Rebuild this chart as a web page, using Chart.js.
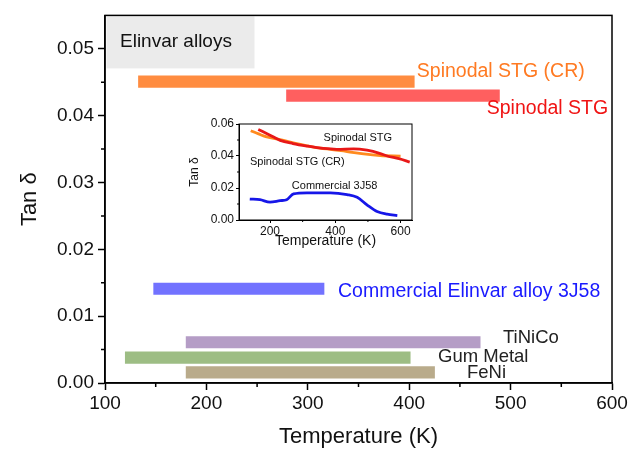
<!DOCTYPE html>
<html>
<head>
<meta charset="utf-8">
<script src="https://cdn.jsdelivr.net/npm/chart.js@4"></script>
<style>
  html, body { margin:0; padding:0; background:#fff; }
  #wrap { position:relative; width:641px; height:452px; }
  #main { position:absolute; left:0; top:0; }
  #inset { position:absolute; left:180px; top:110px; }
</style>
</head>
<body>
<div id="wrap">
  <canvas id="main" width="641" height="452"></canvas>
  <canvas id="inset" width="240" height="145"></canvas>
</div>
<script>
// main chart: temperature windows of each alloy
const alloyNames = ['Spinodal STG (CR)', 'Spinodal STG', 'Commercial Elinvar alloy 3J58', 'TiNiCo', 'Gum Metal', 'FeNi'];
const tempStart = [133, 279, 148, 180, 120, 180];
const tempEnd = [405, 489, 316, 470, 401, 425];
const tanDelta = [0.0451, 0.0430, 0.0141, 0.0061, 0.0038, 0.0016];
const barColors = ['#ff8c40', '#ff5f5f', '#7272ff', '#b59dc6', '#9dbd84', '#b9ab8b'];
const xTicks = [100, 200, 300, 400, 500, 600];
const yTicks = [0.00, 0.01, 0.02, 0.03, 0.04, 0.05];

// inset: tan delta vs temperature
const stgT = [164, 200, 231, 270, 313, 364, 405, 456, 497, 538, 559, 595, 628];
const stgTan = [0.0566, 0.0530, 0.0498, 0.0478, 0.0462, 0.0447, 0.0442, 0.0445, 0.0436, 0.0415, 0.0400, 0.0383, 0.0362];
const crT = [141, 165, 190, 231, 282, 333, 385, 436, 487, 538, 600];
const crTan = [0.0558, 0.0538, 0.0519, 0.0502, 0.0477, 0.0456, 0.0441, 0.0428, 0.0413, 0.0403, 0.0399];
const j58T = [138, 169, 200, 231, 251, 272, 313, 385, 436, 467, 497, 528, 559, 590];
const j58Tan = [0.0131, 0.0127, 0.0112, 0.0121, 0.0127, 0.0163, 0.0170, 0.0170, 0.0159, 0.0142, 0.0095, 0.0053, 0.0036, 0.0028];
const insetXTicks = [200, 400, 600];
const insetYTicks = [0.00, 0.02, 0.04, 0.06];

const FONT = "'Liberation Sans', Arial, sans-serif";

// frame + minor ticks
const framePlugin = {
  id: 'frame',
  afterDraw(chart, args, opts){
    const {ctx, chartArea:a, scales} = chart;
    ctx.save();
    ctx.strokeStyle = '#000';
    ctx.lineWidth = opts.lw || 1.5;
    ctx.strokeRect(a.left, a.top, a.right - a.left, a.bottom - a.top);
    const L = opts.minorLen || 3;
    ctx.beginPath();
    for(const v of opts.xMinor || []){
      const px = scales.x.getPixelForValue(v);
      ctx.moveTo(px, a.bottom); ctx.lineTo(px, a.bottom + L);
    }
    for(const v of opts.yMinor || []){
      const py = scales.y.getPixelForValue(v);
      ctx.moveTo(a.left, py); ctx.lineTo(a.left - L, py);
    }
    ctx.stroke();
    ctx.restore();
  }
};

// text labels placed in data units
const textPlugin = {
  id: 'texts',
  afterDatasetsDraw(chart, args, opts){
    const {ctx, scales} = chart;
    ctx.save();
    ctx.textBaseline = 'middle';
    ctx.textAlign = 'left';
    for(const t of opts.items || []){
      ctx.font = `${t.size}px ${FONT}`;
      ctx.fillStyle = t.color;
      ctx.fillText(t.text, scales.x.getPixelForValue(t.x), scales.y.getPixelForValue(t.y));
    }
    if(opts.box){
      const a = chart.chartArea;
      ctx.fillStyle = '#ebebeb';
      ctx.fillRect(a.left + 1.5, a.top + 1, 148, 52);
      ctx.fillStyle = '#111';
      ctx.font = `19px ${FONT}`;
      ctx.fillText(opts.box, a.left + 15, a.top + 26);
    }
    ctx.restore();
  }
};

new Chart(document.getElementById('main'), {
  type: 'bar',
  data: {
    datasets: [{
      data: alloyNames.map((n, i) => ({ x: [tempStart[i], tempEnd[i]], y: tanDelta[i] })),
      backgroundColor: barColors,
      barThickness: 11.5,
      borderWidth: 0
    }]
  },
  options: {
    indexAxis: 'y',
    responsive: false,
    animation: false,
    layout: { padding: { left: 0, right: 29, top: 14, bottom: 0 } },
    plugins: {
      legend: { display: false },
      tooltip: { enabled: false },
      frame: { lw: 1.5, minorLen: 4, xMinor: [150, 250, 350, 450, 550], yMinor: [0.005, 0.015, 0.025, 0.035, 0.045] },
      texts: {
        box: 'Elinvar alloys',
        items: [
          { text: alloyNames[0], x: 407.5, y: 0.0466, color: '#ff7a22', size: 19.5 },
          { text: alloyNames[1], x: 476.5, y: 0.0411, color: '#f01414', size: 19.5 },
          { text: alloyNames[2], x: 329.8, y: 0.0137, color: '#1a1aff', size: 19.5 },
          { text: alloyNames[3], x: 492.5, y: 0.0067, color: '#222', size: 18.5 },
          { text: alloyNames[4], x: 428.4, y: 0.0039, color: '#222', size: 18.5 },
          { text: alloyNames[5], x: 457, y: 0.0015, color: '#222', size: 18.5 }
        ]
      }
    },
    scales: {
      x: {
        type: 'linear', min: 100, max: 600, offset: false,
        afterBuildTicks: s => { s.ticks = xTicks.map(v => ({ value: v })); },
        afterFit: s => { s.height = 69; },
        grid: { offset: false, drawOnChartArea: false, drawTicks: true, tickLength: 7, tickColor: '#000', tickWidth: 1.5 },
        border: { display: true, color: '#000', width: 1.5 },
        ticks: { color: '#111', font: { family: FONT, size: 19 }, padding: 2, maxRotation: 0 },
        title: { display: true, text: 'Temperature (K)', color: '#111', font: { family: FONT, size: 22 }, padding: { top: 0, bottom: 2 } }
      },
      y: {
        type: 'linear', min: 0, max: 0.055, offset: false,
        afterBuildTicks: s => { s.ticks = yTicks.map(v => ({ value: v })); },
        afterFit: s => { s.width = 105; },
        grid: { offset: false, drawOnChartArea: false, drawTicks: true, tickLength: 7, tickColor: '#000', tickWidth: 1.5 },
        border: { display: true, color: '#000', width: 1.5 },
        ticks: { color: '#111', font: { family: FONT, size: 19 }, padding: 4, callback: v => v.toFixed(2) },
        title: { display: true, text: 'Tan δ', color: '#111', font: { family: FONT, size: 22 }, padding: { top: 17, bottom: 0 } }
      }
    }
  },
  plugins: [framePlugin, textPlugin]
});

const pts = (xs, ys) => xs.map((x, i) => ({ x, y: ys[i] }));

new Chart(document.getElementById('inset'), {
  type: 'line',
  data: {
    datasets: [
      { label: 'Spinodal STG', data: pts(stgT, stgTan), borderColor: '#e81818', borderWidth: 2.8, pointRadius: 0, cubicInterpolationMode: 'monotone' },
      { label: 'Spinodal STG (CR)', data: pts(crT, crTan), borderColor: '#ff8a1e', borderWidth: 2.8, pointRadius: 0, cubicInterpolationMode: 'monotone' },
      { label: 'Commercial 3J58', data: pts(j58T, j58Tan), borderColor: '#1616e8', borderWidth: 2.8, pointRadius: 0, cubicInterpolationMode: 'monotone' }
    ]
  },
  options: {
    responsive: false,
    animation: false,
    layout: { padding: { left: 0, right: 8, top: 14, bottom: 0 } },
    plugins: {
      legend: { display: false },
      tooltip: { enabled: false },
      frame: { lw: 1, minorLen: 2, xMinor: [300, 500], yMinor: [0.01, 0.03, 0.05] },
      texts: {
        items: [
          { text: 'Spinodal STG', x: 364, y: 0.0512, color: '#111', size: 11 },
          { text: 'Spinodal STG (CR)', x: 138.5, y: 0.0362, color: '#111', size: 11 },
          { text: 'Commercial 3J58', x: 266.8, y: 0.0213, color: '#111', size: 11 }
        ]
      }
    },
    scales: {
      x: {
        type: 'linear', min: 105, max: 635,
        afterBuildTicks: s => { s.ticks = insetXTicks.map(v => ({ value: v })); },
        afterFit: s => { s.height = 35; },
        grid: { drawOnChartArea: false, drawTicks: true, tickLength: 3, tickColor: '#000' },
        border: { display: true, color: '#000', width: 1 },
        ticks: { color: '#111', font: { family: FONT, size: 12 }, padding: 1, maxRotation: 0 },
        title: { display: true, text: 'Temperature (K)', color: '#111', font: { family: FONT, size: 14 }, padding: { top: 0, bottom: 5 } }
      },
      y: {
        type: 'linear', min: 0, max: 0.06,
        afterBuildTicks: s => { s.ticks = insetYTicks.map(v => ({ value: v })); },
        afterFit: s => { s.width = 59; },
        grid: { drawOnChartArea: false, drawTicks: true, tickLength: 3, tickColor: '#000' },
        border: { display: true, color: '#000', width: 1 },
        ticks: { color: '#111', font: { family: FONT, size: 12 }, padding: 2, callback: v => v.toFixed(2) },
        title: { display: true, text: 'Tan δ', color: '#111', font: { family: FONT, size: 12 }, padding: { top: 7, bottom: 0 } }
      }
    }
  },
  plugins: [framePlugin, textPlugin]
});
</script>
</body>
</html>
